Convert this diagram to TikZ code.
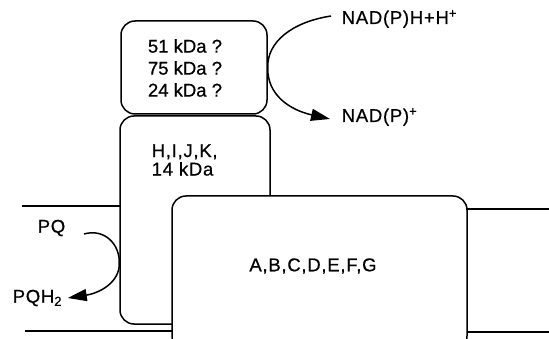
\documentclass[tikz,border=0pt]{standalone}
\usepackage{fontspec}
\setmainfont{Liberation Sans}[FakeBold=0.6]
\newfontfamily\widefont{Liberation Sans}[LetterSpace=4,FakeBold=0.6]
\usetikzlibrary{arrows.meta}
\begin{document}
\begin{tikzpicture}[x=1pt,y=-1pt, line width=1.5pt,
  box/.style={draw, rounded corners=14pt, fill=white, inner sep=0pt},
  lbl/.style={font=\fontsize{18.5}{22}\selectfont, inner sep=0pt},
  wlbl/.style={font=\widefont\fontsize{18.5}{22}\selectfont, inner sep=0pt},
  arr/.style={-{Triangle[length=19pt,width=12pt]}}]
\clip (0,0) rectangle (549,339);
% membrane
\coordinate (m1a) at (22,206); \coordinate (m1b) at (121,206);
\coordinate (m2a) at (467,209); \coordinate (m2b) at (549,209);
\coordinate (m3a) at (25,331);  \coordinate (m3b) at (172,331);
\coordinate (m4a) at (467,332); \coordinate (m4b) at (549,332);
\draw (m1a) -- (m1b);
\draw (m2a) -- (m2b);
\draw (m3a) -- (m3b);
\draw (m4a) -- (m4b);
% boxes
\node[box, minimum width=146pt, minimum height=93pt] (top) at (194,67.5) {};
\node[box, minimum width=150pt, minimum height=208pt] (mid) at (195,220) {};
\node[box, minimum width=295pt, minimum height=154pt] (big) at (319.5,273) {};
% box texts
\node[lbl, align=center] (toptxt) at (185,68) {51 kDa ?\\75 kDa ?\\24 kDa ?};
\node[wlbl, align=left, anchor=west, font=\widefont\fontsize{18.5}{18.5}\selectfont] (midtxt) at (151,160) {H,I,J,K,\\14 kDa};
\node[wlbl] (bigtxt) at (313,266) {A,B,C,D,E,F,G};
% outside labels
\node[wlbl, anchor=west] (nadh) at (341,19) {NAD(P)H+H\textsuperscript{+}};
\node[wlbl, anchor=west] (nadp) at (341,117) {NAD(P)\textsuperscript{+}};
\node[wlbl, anchor=west] (pq) at (37,228) {PQ};
\node[wlbl, anchor=west] (pqh) at (12,298) {PQH\textsubscript{2}};
% arrows
\draw[arr] ([xshift=-10pt,yshift=3pt]nadh.west) .. controls (292,22) and (267,42) .. (top.east)
   .. controls (267,95) and (290,110) .. ([xshift=-11pt,yshift=-2pt]nadp.west);
\draw[arr] ([xshift=18pt,yshift=-6pt]pq.east) .. controls (105,228) and (120,245) .. (mid.west |- 0,263)
   .. controls (120,282) and (100,293) .. ([xshift=5pt]pqh.east);
\end{tikzpicture}
\end{document}
